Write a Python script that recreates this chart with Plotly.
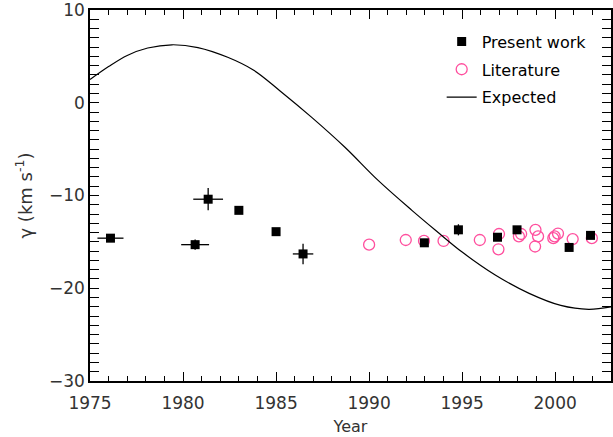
import plotly.graph_objects as go

# Present work: epochs, systemic velocities and uncertainties
pw_year = [1976.1, 1980.65, 1981.35, 1983.0, 1985.0, 1986.45,
           1992.97, 1994.8, 1996.9, 1997.95, 2000.75, 2001.9]
pw_gamma = [-14.6, -15.3, -10.4, -11.6, -13.9, -16.3,
            -15.1, -13.7, -14.5, -13.7, -15.6, -14.3]
pw_xerr = [0.7, 0.75, 0.8, 0.0, 0.0, 0.55, 0.0, 0.0, 0.0, 0.0, 0.0, 0.0]
pw_yerr = [0.0, 0.55, 1.2, 0.2, 0.0, 1.1, 0.2, 0.6, 0.3, 0.3, 0.2, 0.2]

# Literature values
lit_year = [1990.0, 1991.97, 1992.95, 1994.0, 1995.95, 1996.98, 1996.95,
            1998.05, 1998.17, 1998.94, 1998.92, 1999.08, 1999.9, 1999.97,
            2000.15, 2000.94, 2001.97]
lit_gamma = [-15.3, -14.8, -14.9, -14.9, -14.8, -14.15, -15.8,
             -14.4, -14.15, -13.7, -15.5, -14.4, -14.6, -14.4,
             -14.1, -14.7, -14.6]

# Expected systemic velocity curve
exp_year = [1975.0, 1976.0, 1977.0, 1978.1, 1979.4, 1980.8, 1982.4, 1983.8,
            1985.2, 1986.9, 1988.7, 1990.5, 1992.3, 1993.6, 1995.0, 1996.8,
            1998.6, 2000.3, 2001.8, 2003.0]
exp_gamma = [2.5, 3.9, 5.1, 5.9, 6.25, 5.95, 4.9, 3.5,
             1.3, -1.55, -4.8, -8.4, -11.6, -13.8, -16.1, -18.6,
             -20.55, -21.85, -22.27, -22.0]

X_RANGE = [1975, 2003]
Y_RANGE = [-30, 10]

FONT = "DejaVu Sans"
PINK = "#ff4f9e"

fig = go.Figure()

# The curve sits on the overlay x axis (same range), which carries the ticks
fig.add_trace(go.Scatter(
    x=exp_year, y=exp_gamma, mode="lines", name="Expected",
    line=dict(color="black", width=1.2, shape="spline", smoothing=1.0),
    xaxis="x2", yaxis="y",
    legend="legend3",
))

fig.add_trace(go.Scatter(
    x=lit_year, y=lit_gamma, mode="markers", name="Literature",
    marker=dict(symbol="circle-open", size=11, color=PINK,
                line=dict(color=PINK, width=1.3)),
    legend="legend2",
))

fig.add_trace(go.Scatter(
    x=pw_year, y=pw_gamma, mode="markers", name="Present work",
    marker=dict(symbol="square", size=9, color="black"),
    error_x=dict(type="data", array=pw_xerr, color="black",
                 thickness=1.3, width=0),
    error_y=dict(type="data", array=pw_yerr, color="black",
                 thickness=1.3, width=0),
    legend="legend",
))

# Primary x axis: frame line and labels (transparent outside ticks give
# the labels some clearance from the axis line)
fig.update_layout(xaxis=dict(
    range=X_RANGE, tickmode="linear", tick0=1975, dtick=5,
    showline=True, linecolor="black", linewidth=1.5, mirror=True,
    ticks="outside", ticklen=6, tickcolor="rgba(0,0,0,0)",
    showgrid=False, zeroline=False,
    tickfont=dict(family=FONT, size=17, color="#333333"),
    title=dict(text="Year", standoff=9,
               font=dict(family=FONT, size=16, color="#333333")),
))
# Overlay x axis: inward major/minor ticks on bottom and top
fig.update_layout(xaxis2=dict(
    overlaying="x", anchor="y", side="bottom", range=X_RANGE,
    tickmode="linear", tick0=1975, dtick=5, showticklabels=False,
    showline=False, mirror="allticks",
    ticks="inside", ticklen=9, tickwidth=1.3, tickcolor="black",
    minor=dict(dtick=1, ticks="inside", ticklen=5,
               tickwidth=1, tickcolor="black"),
    showgrid=False, zeroline=False,
))

fig.update_yaxes(
    range=Y_RANGE, tickmode="linear", tick0=-30, dtick=10,
    showline=True, linecolor="black", linewidth=1.5, mirror="allticks",
    ticks="inside", ticklen=9, tickwidth=1.3, tickcolor="black",
    minor=dict(dtick=1, ticks="inside", ticklen=5,
               tickwidth=1, tickcolor="black"),
    showgrid=False, zeroline=False,
    ticklabeloverflow="allow",
    tickfont=dict(family=FONT, size=17, color="#333333"),
    title=dict(text="γ (km s<sup>-1</sup>)", standoff=12,
               font=dict(family=FONT, size=18, color="#333333")),
)

legend_common = dict(
    xanchor="left", yanchor="middle", bgcolor="rgba(0,0,0,0)",
    borderwidth=0, font=dict(family=FONT, size=16, color="black"),
)
fig.update_layout(
    width=613, height=437,
    margin=dict(l=90, r=0, t=9, b=56),
    paper_bgcolor="white", plot_bgcolor="white",
    showlegend=True,
    legend=dict(x=0.675, y=0.915, **legend_common),
    legend2=dict(x=0.675, y=0.84, **legend_common),
    legend3=dict(x=0.675, y=0.765, **legend_common),
)

fig.write_html("out.html")
